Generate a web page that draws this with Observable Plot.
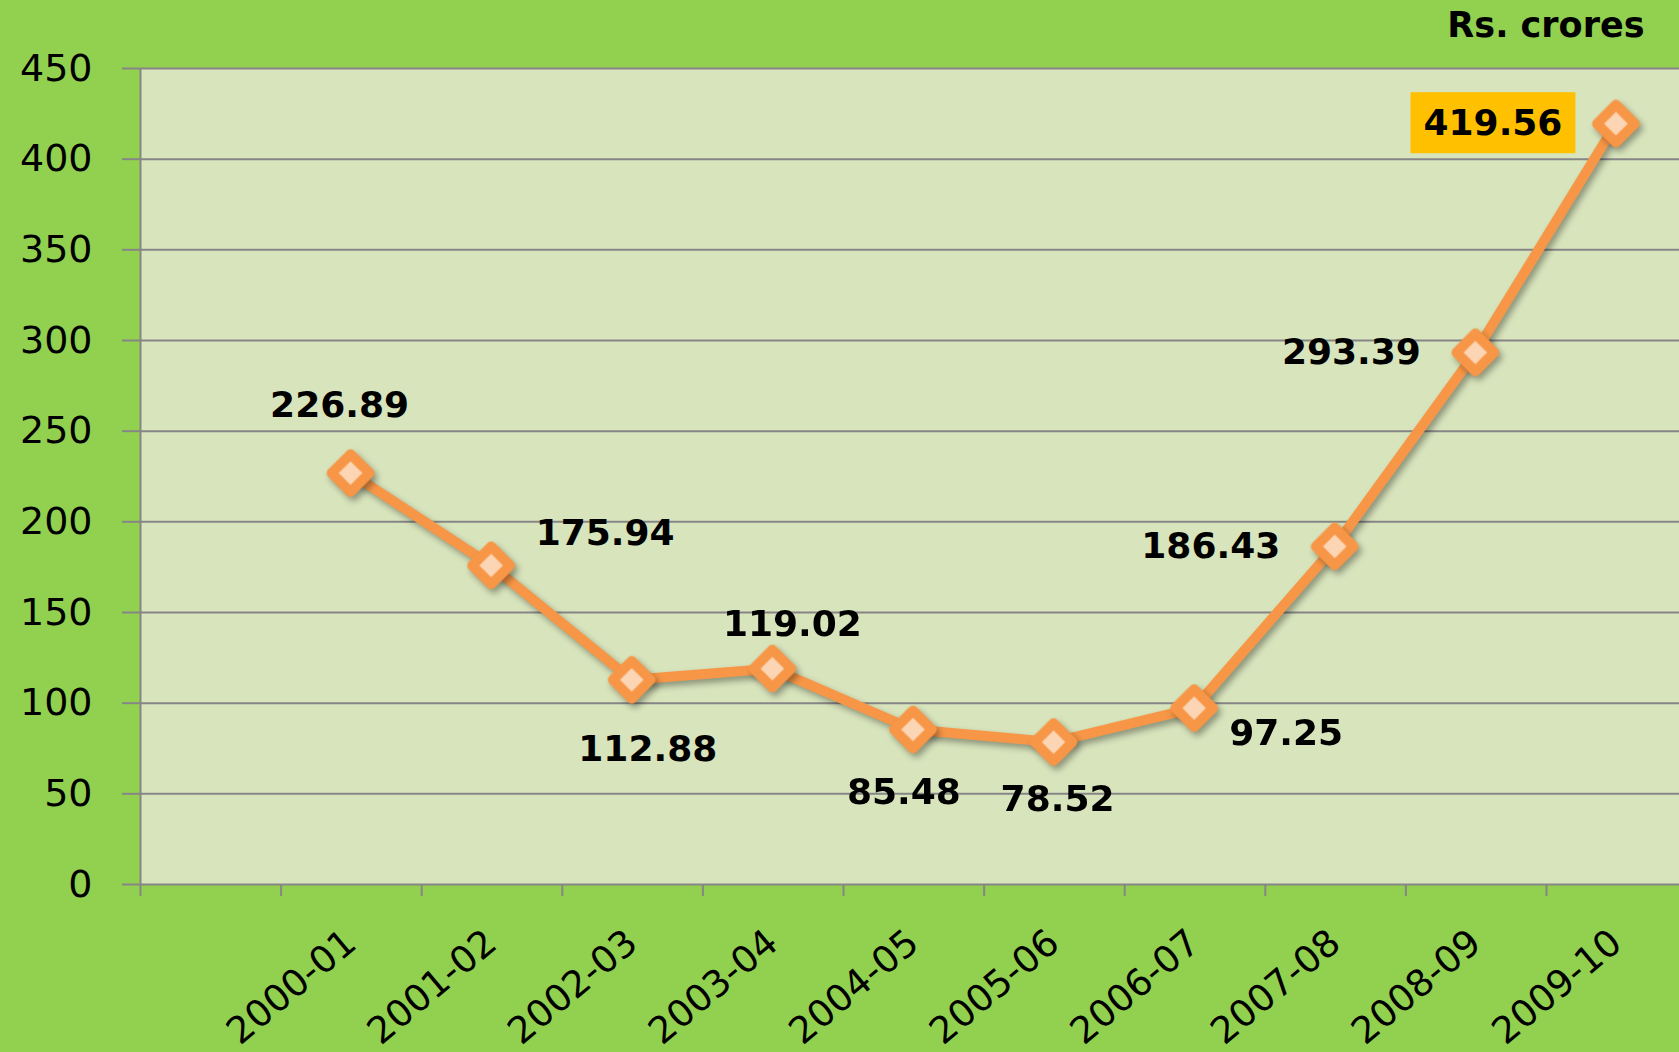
<!DOCTYPE html>
<html>
<head>
<meta charset="utf-8">
<script src="https://cdn.jsdelivr.net/npm/d3@7"></script>
<script src="https://cdn.jsdelivr.net/npm/@observablehq/plot@0.6"></script>
<style>
  html, body { margin: 0; padding: 0; background: #92D050; overflow: hidden; }
  #chart svg { display: block; }
</style>
</head>
<body>
<div id="chart"></div>
<script>
// ---- data ----
const categories = ["2000-01", "2001-02", "2002-03", "2003-04", "2004-05",
                    "2005-06", "2006-07", "2007-08", "2008-09", "2009-10"];
const values = [226.89, 175.94, 112.88, 119.02, 85.48, 78.52, 97.25, 186.43, 293.39, 419.56];
const yTicks = [0, 50, 100, 150, 200, 250, 300, 350, 400, 450];
const unitLabel = "Rs. crores";
const highlightIndex = 9;

// ---- layout ----
const W = 1679, H = 1052;
const marginLeft = 140, marginTop = 68, marginBottom = 168;
const slotWidth = 140.6;
const slotCount = (W - marginLeft) / slotWidth;   // visible slots in plot area
const slotOffset = 1.494;                          // points sit right of tick 0
const boundaryTicks = d3.range(0, 11);
// label offsets (px) relative to each point
const labelOffsets = [[-11, -68], [114, -32], [16, 70], [20, -44], [-9, 63],
                      [4, 57], [92, 25], [-124, 0], [-124, 0], [-123, 0]];

const rows = categories.map((c, i) => ({cat: c, value: values[i], pos: i + slotOffset}));

const grid = "#868686";
const orange = "#F79646";
const fmt = v => v.toFixed(2);

const labelMarks = rows.map((r, i) => Plot.text([r], {
  x: "pos", y: "value", text: d => fmt(d.value),
  dx: labelOffsets[i][0], dy: labelOffsets[i][1],
  fontSize: 36, fontWeight: "bold", fill: "black"
}));

const chart = Plot.plot({
  width: W, height: H,
  marginLeft, marginRight: 0, marginTop, marginBottom,
  style: {background: "#92D050", fontFamily: "'DejaVu Sans', Verdana, sans-serif", color: "black"},
  x: {type: "linear", domain: [0, slotCount]},
  y: {domain: [0, 450]},
  marks: [
    Plot.frame({fill: "#D8E4BC", stroke: "none"}),
    Plot.ruleY(yTicks, {stroke: grid, strokeWidth: 2}),
    Plot.ruleX([0], {stroke: grid, strokeWidth: 2}),
    Plot.axisY({ticks: yTicks, tickSize: 18, stroke: grid, strokeWidth: 2,
                tickFormat: () => "", label: null}),
    Plot.text(yTicks, {y: d => d, frameAnchor: "left", textAnchor: "end",
                       dx: -48, fontSize: 38, fill: "black"}),
    Plot.axisX({ticks: boundaryTicks, tickSize: 12, stroke: grid, strokeWidth: 2,
                tickFormat: () => "", label: null}),
    Plot.text(rows, {x: "pos", text: "cat", frameAnchor: "bottom",
                     rotate: -40, textAnchor: "end", dx: 8, dy: 62, fontSize: 37, fill: "black"}),
    Plot.line(rows, {x: "pos", y: "value", stroke: orange, strokeWidth: 10,
                     strokeLinejoin: "round"}),
    Plot.dot(rows, {x: "pos", y: "value", symbol: "diamond2", r: 17,
                    fill: "#FCD5B4", stroke: orange, strokeWidth: 10,
                    strokeLinejoin: "round"}),
    ...labelMarks,
    Plot.text([unitLabel], {frameAnchor: "top-right", lineAnchor: "middle", textAnchor: "end",
                            dx: -35, dy: -43, fontSize: 35, fontWeight: "bold", fill: "black"})
  ]
});

document.getElementById("chart").appendChild(chart);

// drop shadows for line and markers
chart.querySelectorAll('g[aria-label="line"], g[aria-label="dot"]').forEach(g => {
  g.style.filter = "drop-shadow(3px 4px 3px rgba(0,0,0,0.35))";
});

// highlight box behind the highlighted value label
const hlText = fmt(values[highlightIndex]);
chart.querySelectorAll('g[aria-label="text"] text').forEach(t => {
  if (t.textContent !== hlText) return;
  const bb = t.getBBox();
  const padX = 13, padY = 10;
  const rect = document.createElementNS("http://www.w3.org/2000/svg", "rect");
  rect.setAttribute("x", bb.x - padX);
  rect.setAttribute("y", bb.y - padY);
  rect.setAttribute("width", bb.width + 2 * padX);
  rect.setAttribute("height", bb.height + 2 * padY);
  rect.setAttribute("fill", "#FFC000");
  if (t.getAttribute("transform")) rect.setAttribute("transform", t.getAttribute("transform"));
  t.parentNode.insertBefore(rect, t);
});
</script>
</body>
</html>
